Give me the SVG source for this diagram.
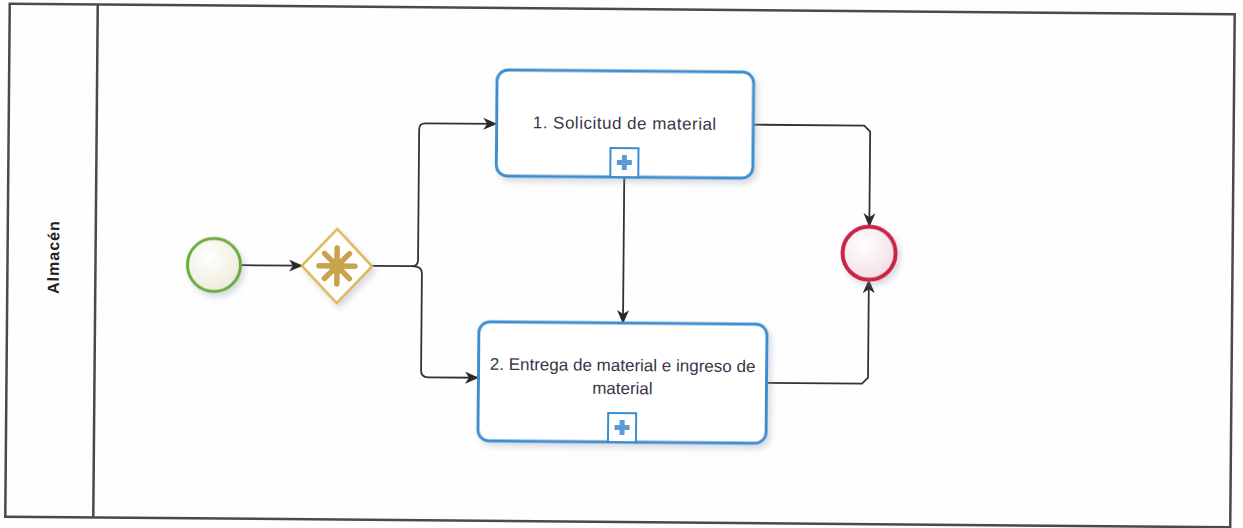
<svg xmlns="http://www.w3.org/2000/svg" width="1243" height="528" viewBox="0 0 1243 528">
  <style>
    .frame { fill: none; stroke: #4a4a4a; stroke-width: 2.5; }
    .flow { fill: none; stroke: #333; stroke-width: 1.8; }
    .task { fill: #fff; stroke: #3a8ed0; stroke-width: 3; }
    .sub { fill: #fff; stroke: #3a8ed0; stroke-width: 2; }
    .plus { fill: #5b9bd5; }
    .label { font-family: "Liberation Sans", Arial, sans-serif; font-size: 17px; fill: #3a3548; text-anchor: middle; }
    .lane { font-family: "Liberation Sans", Arial, sans-serif; font-size: 16px; font-weight: bold; fill: #222; text-anchor: middle; }
    .star { stroke: #c9a24e; stroke-width: 5.5; stroke-linecap: round; }
  </style>
  <defs>
    <marker id="arrow" viewBox="0 0 14 12" refX="13" refY="6" markerWidth="14" markerHeight="12" markerUnits="userSpaceOnUse" orient="auto">
      <path d="M0,0 L14,6 L0,12 L4,6 z" fill="#2a2a2a"/>
    </marker>
    <radialGradient id="startFill" cx="0.4" cy="0.35" r="0.7">
      <stop offset="0" stop-color="#ffffff"/>
      <stop offset="1" stop-color="#ecebd8"/>
    </radialGradient>
    <radialGradient id="endFill" cx="0.4" cy="0.35" r="0.7">
      <stop offset="0" stop-color="#ffffff"/>
      <stop offset="1" stop-color="#f1dde3"/>
    </radialGradient>
    <filter id="shadow" x="-10%" y="-10%" width="125%" height="130%">
      <feDropShadow dx="3" dy="4" stdDeviation="3" flood-color="#8a96a8" flood-opacity="0.35"/>
    </filter>
  </defs>

  <rect width="1243" height="528" fill="#fefefe"/>

  <g transform="rotate(0.5 620 264)">
    <!-- pool / lane frame -->
    <g id="lane">
      <rect class="frame" x="7.5" y="9" width="1225" height="513"/>
      <line class="frame" x1="95.5" y1="9" x2="95.5" y2="522"/>
      <text class="lane" x="0" y="0" letter-spacing="1" transform="translate(59 262) rotate(-90)">Almacén</text>
    </g>

    <!-- sequence flows -->
    <g id="connectors">
      <path class="flow" d="M241,268.5 H302" marker-end="url(#arrow)"/>
      <path class="flow" d="M372,268 H412 Q418,268 418,262 V131 Q418,125 424,125 H495" marker-end="url(#arrow)"/>
      <path class="flow" d="M412,268 Q422,268 422,275 V372 Q422,379 429,379 H479" marker-end="url(#arrow)"/>
      <path class="flow" d="M623.5,177 V323" marker-end="url(#arrow)"/>
      <path class="flow" d="M752,123.5 H863 L869,129.5 V224" marker-end="url(#arrow)"/>
      <path class="flow" d="M767.5,381.5 H863 L869,375.5 V278" marker-end="url(#arrow)"/>
    </g>

    <!-- start event -->
    <g id="start">
      <circle cx="214" cy="268.5" r="26.5" fill="url(#startFill)" stroke="#6aaa3a" stroke-width="3" filter="url(#shadow)"/>
    </g>

    <!-- complex gateway -->
    <g id="gateway">
      <polygon points="337,231.5 372,268.5 337,305.5 302,268.5" fill="#fff" stroke="#dcb54a" stroke-width="2.5" filter="url(#shadow)"/>
      <line class="star" x1="319" y1="268.5" x2="355" y2="268.5"/>
      <line class="star" x1="337" y1="250.5" x2="337" y2="286.5"/>
      <line class="star" x1="324.5" y1="256" x2="349.5" y2="281"/>
      <line class="star" x1="349.5" y1="256" x2="324.5" y2="281"/>
      <circle cx="337" cy="268.5" r="8" fill="#c9a24e"/>
    </g>

    <!-- task 1 -->
    <g id="task1">
      <rect class="task" x="495.5" y="71" width="256.5" height="106" rx="11" filter="url(#shadow)"/>
      <text class="label" x="623.5" y="129" letter-spacing="0.5">1. Solicitud de material</text>
      <rect class="sub" x="609.5" y="148" width="28" height="29"/>
      <path class="plus" d="M621,155 h5 v5 h5 v5 h-5 v5 h-5 v-5 h-5 v-5 h5 z"/>
    </g>

    <!-- task 2 -->
    <g id="task2">
      <rect class="task" x="479.5" y="323" width="288" height="119" rx="11" filter="url(#shadow)"/>
      <text class="label" x="623.5" y="371">2. Entrega de material e ingreso de</text>
      <text class="label" x="623.5" y="394">material</text>
      <rect class="sub" x="609.5" y="413" width="28" height="29"/>
      <path class="plus" d="M621,420 h5 v5 h5 v5 h-5 v5 h-5 v-5 h-5 v-5 h5 z"/>
    </g>

    <!-- end event -->
    <g id="end">
      <circle cx="869" cy="251" r="26.5" fill="url(#endFill)" stroke="#cc2244" stroke-width="4" filter="url(#shadow)"/>
    </g>
  </g>
</svg>
